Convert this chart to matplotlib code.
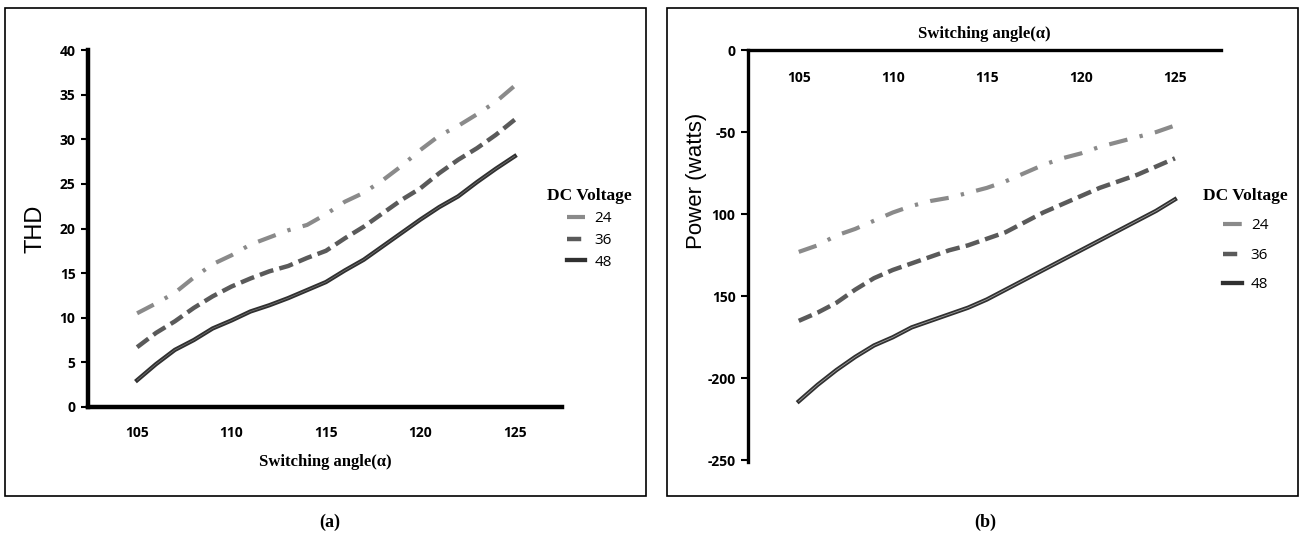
import matplotlib.pyplot as plt
from matplotlib.lines import Line2D
from matplotlib.patches import Rectangle

angles = list(range(105, 126))

# (a) THD
thd_24 = [10.5, 11.6, 12.8, 14.5, 16.0, 17.0, 18.2, 19.0, 19.8, 20.4, 21.6,
          23.0, 24.0, 25.4, 27.0, 28.8, 30.4, 31.5, 32.8, 34.2, 36.0]
thd_36 = [6.7, 8.3, 9.6, 11.1, 12.4, 13.5, 14.4, 15.2, 15.8, 16.7, 17.5,
          18.9, 20.2, 21.7, 23.2, 24.5, 26.2, 27.7, 29.0, 30.5, 32.2]
thd_48 = [3.0, 4.8, 6.4, 7.5, 8.8, 9.7, 10.7, 11.4, 12.2, 13.1, 14.0,
          15.3, 16.5, 18.0, 19.5, 21.0, 22.4, 23.6, 25.2, 26.7, 28.1]

# (b) Power
pow_24 = [-123, -119, -113, -109, -104, -99, -95, -92, -90, -87, -84,
          -80, -75, -70, -66, -63, -59, -56, -53, -50, -46]
pow_36 = [-165, -160, -154, -146, -139, -134, -130, -126, -122, -119, -115,
          -111, -105, -99, -94, -89, -84, -80, -76, -71, -66]
pow_48 = [-214, -204, -195, -187, -180, -175, -169, -165, -161, -157, -152,
          -146, -140, -134, -128, -122, -116, -110, -104, -98, -91]

thd_ticks = [0, 5, 10, 15, 20, 25, 30, 35, 40]
pow_ticks = [-250, -200, -150, -100, -50, 0]
pow_ticklabels = ['-250', '-200', '150', '100', '-50', '0']
x_ticks = [105, 110, 115, 120, 125]
series_labels = ['24', '36', '48']

c24, c36, c48 = '#8a8a8a', '#5a5a5a', '#303030'
sty24 = dict(color=c24, lw=3.0, dashes=(4.5, 3.0, 0.8, 3.0), solid_capstyle='butt')
sty36 = dict(color=c36, lw=3.2, dashes=(3.2, 1.4))
sty48 = dict(color=c48, lw=3.1)

tick_font = dict(family='Open Sans', weight='bold', size=10)
serif_bold = dict(family='Liberation Serif', weight='bold')

fig = plt.figure(figsize=(13.03, 5.42), dpi=100)

# panel frames
fig.add_artist(Rectangle((5 / 1303, 46 / 542), 641 / 1303, 488 / 542, transform=fig.transFigure,
                         fill=False, lw=1.2, ec='black'))
fig.add_artist(Rectangle((667 / 1303, 46 / 542), 631 / 1303, 488 / 542, transform=fig.transFigure,
                         fill=False, lw=1.2, ec='black'))

# ---------- (a) ----------
ax1 = fig.add_axes([88 / 1303, 1 - 407 / 542, 474 / 1303, 357 / 542])
ax1.plot(angles, thd_24, **sty24)
ax1.plot(angles, thd_36, **sty36)
ax1.plot(angles, thd_48, **sty48)
ax1.plot(angles, thd_48, color='#7a7a7a', lw=0.5)
ax1.set_xlim(102.4, 127.5)
ax1.set_ylim(0, 40)
ax1.set_yticks(thd_ticks)
ax1.set_xticks(x_ticks)
for s in ['top', 'right']:
    ax1.spines[s].set_visible(False)
for s in ['left', 'bottom']:
    ax1.spines[s].set_linewidth(3.2)
ax1.tick_params(axis='x', length=0, pad=14)
ax1.tick_params(axis='y', length=5, width=1.5, pad=4)
for lab in ax1.get_xticklabels() + ax1.get_yticklabels():
    lab.set_fontproperties(tick_font)
ax1.set_xlabel('Switching angle(α)', fontsize=12, labelpad=10, **serif_bold)
ax1.set_ylabel('THD', family='Liberation Sans', fontsize=17)
ax1.yaxis.set_label_coords(-0.088, 0.5)

# ---------- (b) ----------
ax2 = fig.add_axes([748 / 1303, 1 - 462 / 542, 473 / 1303, 412 / 542])
ax2.plot(angles, pow_24, **sty24)
ax2.plot(angles, pow_36, **sty36)
ax2.plot(angles, pow_48, **sty48)
ax2.plot(angles, pow_48, color='#a0a0a0', lw=0.6)
ax2.set_xlim(102.3, 127.45)
ax2.set_ylim(-251, 0)
ax2.set_yticks(pow_ticks)
ax2.set_yticklabels(pow_ticklabels)
ax2.set_xticks(x_ticks)
ax2.xaxis.set_ticks_position('top')
for s in ['bottom', 'right']:
    ax2.spines[s].set_visible(False)
for s in ['left', 'top']:
    ax2.spines[s].set_linewidth(2.4)
ax2.tick_params(axis='x', length=0, pad=-25)
ax2.tick_params(axis='y', length=5, width=1.5, pad=4)
for lab in ax2.get_xticklabels() + ax2.get_yticklabels():
    lab.set_fontproperties(tick_font)
ax2.set_title('Switching angle(α)', fontsize=12, pad=9, **serif_bold)
ax2.set_ylabel('Power (watts)', family='Liberation Sans', fontsize=16)
ax2.yaxis.set_label_coords(-0.086, 0.682)

# legends
handles = [Line2D([], [], **sty24), Line2D([], [], **sty36), Line2D([], [], **sty48)]
for ax, anchor, spacing in [(ax1, (0.955, 0.63), 0.45), (ax2, (0.95, 0.68), 0.95)]:
    leg = ax.legend(handles, series_labels, title='DC Voltage', loc='upper left',
                    bbox_to_anchor=anchor, frameon=False, handlelength=1.2,
                    handletextpad=0.6, labelspacing=spacing, borderaxespad=0,
                    prop=dict(family='Open Sans', size=11))
    leg.get_title().set_fontproperties(dict(family='Liberation Serif', weight='bold', size=12.5))
    leg._legend_box.align = 'center'

fig.text(330 / 1303, 1 - 522 / 542, '(a)', ha='center', va='center', fontsize=13, **serif_bold)
fig.text(985 / 1303, 1 - 522 / 542, '(b)', ha='center', va='center', fontsize=13, **serif_bold)

fig.savefig('out.png', dpi=100)
